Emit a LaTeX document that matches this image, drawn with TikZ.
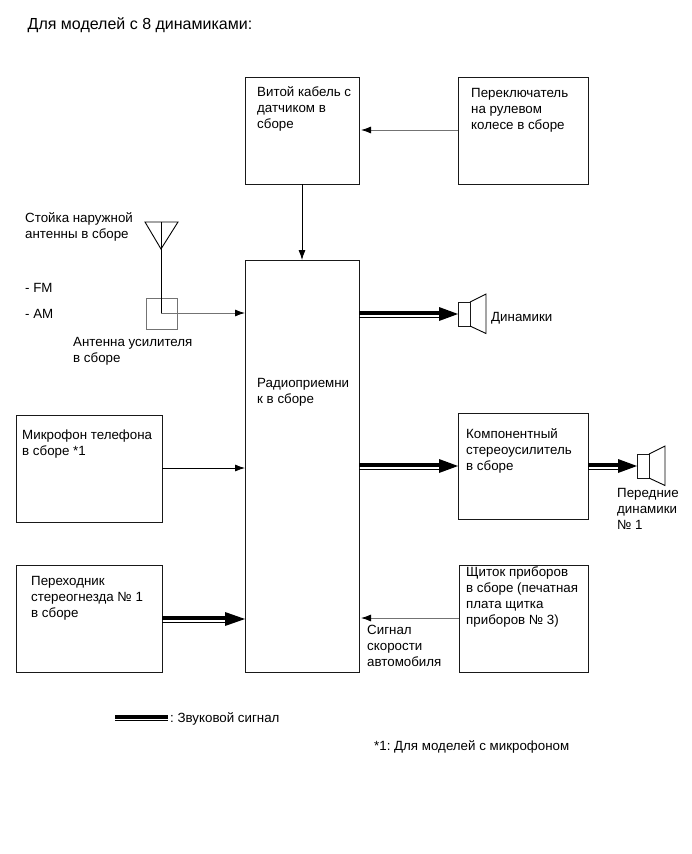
\documentclass[tikz,border=0pt]{standalone}
\usepackage{fontspec}
\setmainfont{Liberation Sans}
\frenchspacing
\usetikzlibrary{arrows.meta,calc}
\tikzset{
  boxn/.style={draw=black!90,line width=1pt,fill=white,inner sep=0pt,outer sep=0pt,anchor=north west},
  txt/.style={inner sep=0pt,anchor=north west,align=left,yshift=-1.5pt,font=\fontsize{13.33}{16}\selectfont,execute at begin node={\rule{0pt}{12pt}}},
  blackarrow/.style={draw=black,line width=.8pt,-{Latex[length=10pt,width=7pt,black]}},
  grayarrow/.style={draw=black!55,line width=.9pt,-{Latex[length=10pt,width=7pt,black]}},
  blackline/.style={draw=black,line width=.9pt},
  soundthick/.style={line width=4pt,draw=black},
  soundthin/.style={line width=1pt,draw=black},
  soundhead/.style={fill=black,draw=none},
}
\newcommand{\soundarrow}[3]{% from, to, head length
  \draw[soundthick] ($(#1)+(0,-1)$) -- ($(#2)+(-#3,-1)$);
  \draw[soundthin] ($(#1)+(0,3)$) -- ($(#2)+(-#3,3)$);
  \fill[soundhead] ($(#2)+(-#3,-7)$) -- (#2) -- ($(#2)+(-#3,7)$) -- cycle;
}
\newcommand{\speaker}[3]{% name, left x, centre y
  \node[boxn,minimum width=12pt,minimum height=24pt,anchor=west,line width=1pt] (#1) at (#2,#3) {};
  \draw[blackline] (#1.north east) -- ++(16,-8) -- ++(0,39.5) -- (#1.south east);
}
\begin{document}
\begin{tikzpicture}[x=1pt,y=-1pt]
\useasboundingbox (0,0) rectangle (691,854);
\node[txt,yshift=1.5pt,font=\fontsize{16}{19}\selectfont] (title) at (27.5,17) {Для моделей с 8 динамиками:};
\node[boxn,minimum width=114pt,minimum height=107pt] (coil) at (245,77) {};
\node[txt] (coilt) at (257,84.5) {Витой кабель с\\датчиком в\\сборе};
\node[boxn,minimum width=130pt,minimum height=107pt] (sw) at (458,77) {};
\node[txt] (swt) at (471,86.5) {Переключатель\\на рулевом\\колесе в сборе};
\node[boxn,minimum width=114pt,minimum height=412pt] (radio) at (245,260) {};
\node[txt] (radiot) at (257,376.5) {Радиоприемни\\к в сборе};
\node[boxn,minimum width=146pt,minimum height=107pt] (mic) at (16,415) {};
\node[txt] (mict) at (22,428.5) {Микрофон телефона\\в сборе *1};
\node[boxn,minimum width=146pt,minimum height=107pt] (adapter) at (16,565) {};
\node[txt] (adaptert) at (31,574.5) {Переходник\\стереогнезда № 1\\в сборе};
\node[boxn,minimum width=130pt,minimum height=106pt] (stereo) at (458,413) {};
\node[txt] (stereot) at (466,426.5) {Компонентный\\стереоусилитель\\в сборе};
\node[boxn,minimum width=129pt,minimum height=107pt] (panel) at (459,565) {};
\node[txt] (panelt) at (466,565.5) {Щиток приборов\\в сборе (печатная\\плата щитка\\приборов № 3)};
\node[txt] (ant) at (25,210.5) {Стойка наружной\\антенны в сборе};
\node[txt] (fm) at (25,278.5) {- FM};
\node[txt] (am) at (25,304.5) {- AM};
\node[txt] (ampt) at (73,335.5) {Антенна усилителя\\в сборе};
\node[txt] (spk) at (491,307.5) {Динамики};
\node[txt] (frontt) at (617,486.5) {Передние\\динамики\\№ 1};
\node[txt] (speed) at (367,623.5) {Сигнал\\скорости\\автомобиля};
\node[txt] (legend) at (170,708.5) {: Звуковой сигнал};
\node[txt] (note) at (374,736.5) {*1: Для моделей с микрофоном};
% antenna
\coordinate (tl) at (145,222); \coordinate (tr) at (178,222); \coordinate (tb) at (161,249);
\draw[blackline] (tl) -- (tr) -- (tb) -- cycle;
\node[draw=black!55,line width=.9pt,outer sep=0pt,minimum width=31pt,minimum height=31pt,inner sep=0pt,anchor=north west] (amp) at (146,298) {};
\coordinate (top) at (161,222);
\coordinate (elbow) at (161,313);
\draw[blackline] (top) -- (elbow);
\coordinate (radioamp) at (radio.west |- elbow);
\draw[grayarrow] (elbow) -- (radioamp);
% thin arrows
\coordinate (swl) at (sw.west |- 0,130); \coordinate (coilr) at ($(coil.east |- 0,130)+(2,0)$);
\draw[grayarrow] (swl) -- (coilr);
\coordinate (coilb) at (302,184); \coordinate (radiot2) at (302,260);
\draw[blackarrow] (coilb) -- (radiot2);
\coordinate (micr) at (mic.east |- 0,468); \coordinate (radiom) at (radio.west |- 0,468);
\draw[blackarrow] (micr) -- (radiom);
\coordinate (panl) at (panel.west |- 0,618); \coordinate (radiop) at ($(radio.east |- 0,618)+(2,0)$);
\draw[grayarrow] (panl) -- (radiop);
% speakers
\speaker{spa}{458}{314}
\speaker{spb}{637}{466}
% sound arrows
\coordinate (r1) at (radio.east |- spa.west);
\soundarrow{r1}{spa.west}{19}
\coordinate (r2) at (radio.east |- spb.west);
\coordinate (r2a) at (stereo.west |- spb.west);
\soundarrow{r2}{r2a}{19}
\coordinate (s2) at (stereo.east |- spb.west);
\soundarrow{s2}{spb.west}{19}
\coordinate (a1) at (adapter.east |- 0,619);
\coordinate (a2) at (radio.west |- 0,619);
\soundarrow{a1}{a2}{20}
\coordinate (l1) at (115,717); \coordinate (l2) at (168,717);
\draw[soundthick] ($(l1)+(0,-.5)$) -- ($(l2)+(0,-.5)$);
\draw[soundthin] ($(l1)+(0,3.5)$) -- ($(l2)+(0,3.5)$);
\end{tikzpicture}
\end{document}
